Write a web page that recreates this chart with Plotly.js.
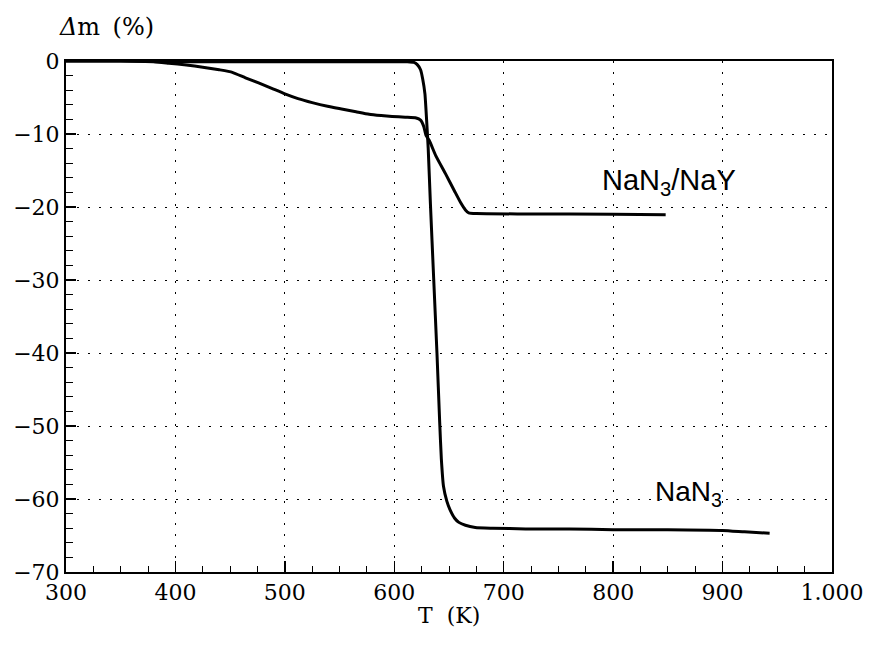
<!DOCTYPE html>
<html>
<head>
<meta charset="utf-8">
<script src="https://cdn.plot.ly/plotly-3.0.1.min.js"></script>
<style>html,body{margin:0;padding:0;background:#fff;}#chart{width:870px;height:646px;}</style>
</head>
<body>
<div id="chart"></div>
<script>
// NaN3 (pure) mass loss, Δm (%) vs T (K)
const tNaN3 = [300, 350, 400, 450, 500, 550, 600, 612, 618, 621, 624, 626, 628, 629.5, 631, 633, 636, 639, 641.5, 643, 645, 648, 651, 655, 659, 665, 674, 690, 720, 760, 800, 850, 900, 920, 943];
const mNaN3 = [0, 0, -0.1, -0.1, -0.1, -0.1, -0.1, -0.1, -0.2, -0.5, -1.2, -2.5, -4.5, -8, -12, -19.5, -29.8, -40, -49.5, -54.5, -58.3, -60.3, -61.5, -62.6, -63.2, -63.6, -63.9, -64.0, -64.1, -64.1, -64.2, -64.2, -64.3, -64.5, -64.7];

// NaN3/NaY mass loss
const tNaY = [300, 350, 380, 394, 410, 425, 440, 452, 464, 476, 488, 500, 512, 525, 539, 553, 565, 577, 588, 598, 610, 620, 624, 627, 629, 632, 638, 647, 655, 661, 665, 668, 675, 720, 800, 848];
const mNaY = [0, 0, -0.1, -0.3, -0.55, -0.85, -1.2, -1.55, -2.3, -3.0, -3.75, -4.5, -5.15, -5.7, -6.2, -6.6, -6.95, -7.3, -7.48, -7.6, -7.7, -7.8, -8.1, -9.0, -10.2, -10.9, -13, -15.5, -17.8, -19.5, -20.4, -20.8, -20.9, -20.95, -21.0, -21.05];

const xTickVals = [300, 400, 500, 600, 700, 800, 900, 1000];
const xTickText = ['300', '400', '500', '600', '700', '800', '900', '1.000'];
const yTickVals = [0, -10, -20, -30, -40, -50, -60, -70];
const yTickText = ['0', '\u221210', '\u221220', '\u221230', '\u221240', '\u221250', '\u221260', '\u221270'];

const serif = '"DejaVu Serif"';
const sans = '"Liberation Sans"';

const traces = [
  {x: tNaN3, y: mNaN3, type: 'scatter', mode: 'lines', name: 'NaN3',
   line: {color: '#000', width: 3, shape: 'spline', smoothing: 0.5}, showlegend: false},
  {x: tNaY, y: mNaY, type: 'scatter', mode: 'lines', name: 'NaN3/NaY',
   line: {color: '#000', width: 3, shape: 'spline', smoothing: 0.5}, showlegend: false}
];

const layout = {
  width: 870, height: 646,
  margin: {l: 66, r: 38, t: 61, b: 74},
  paper_bgcolor: '#fff', plot_bgcolor: '#fff', showlegend: false,
  font: {family: serif, color: '#000', size: 22},
  xaxis: {
    range: [300, 1000], tickvals: xTickVals, ticktext: xTickText,
    ticks: 'inside', ticklen: 11, tickwidth: 1.5, tickcolor: '#000',
    showline: true, linecolor: '#000', linewidth: 2, mirror: true,
    showgrid: true, gridcolor: '#000', gridwidth: 1, griddash: '2px,9px', zeroline: false,
    tickfont: {family: serif, size: 22, color: '#000'},
    minor: {dtick: 25, tick0: 300, ticks: 'inside', ticklen: 6, tickwidth: 1, tickcolor: '#000', showgrid: false}
  },
  yaxis: {
    range: [-70, 0], tickvals: yTickVals, ticktext: yTickText,
    ticks: 'inside', ticklen: 10, tickwidth: 1.5, tickcolor: '#000',
    showline: true, linecolor: '#000', linewidth: 2, mirror: true,
    showgrid: true, gridcolor: '#000', gridwidth: 1, griddash: '2px,9px', zeroline: false,
    tickfont: {family: serif, size: 22, color: '#000'},
    minor: {dtick: 2, tick0: 0, ticks: 'inside', ticklen: 7, tickwidth: 1, tickcolor: '#000', showgrid: false}
  },
  annotations: [
    {text: '<i>\u0394</i>m\u00a0\u2009(%)', xref: 'paper', yref: 'paper', x: -0.012, y: 1.066,
     xanchor: 'left', yanchor: 'middle', showarrow: false,
     font: {family: serif, size: 24, color: '#000'}},
    {text: 'T\u00a0\u00a0(K)', xref: 'paper', yref: 'paper', x: 0.5, y: -0.0843,
     xanchor: 'center', yanchor: 'middle', showarrow: false,
     font: {family: serif, size: 22, color: '#000'}},
    {text: 'NaN<sub>3</sub>/NaY', xref: 'x', yref: 'y', x: 788, y: -16.6,
     xanchor: 'left', yanchor: 'middle', showarrow: false,
     font: {family: sans, size: 29, color: '#000'}},
    {text: 'NaN<sub>3</sub>', xref: 'x', yref: 'y', x: 836, y: -59.3,
     xanchor: 'left', yanchor: 'middle', showarrow: false,
     font: {family: sans, size: 28, color: '#000'}}
  ]
};

Plotly.newPlot('chart', traces, layout, {displayModeBar: false, staticPlot: true});
</script>
</body>
</html>
